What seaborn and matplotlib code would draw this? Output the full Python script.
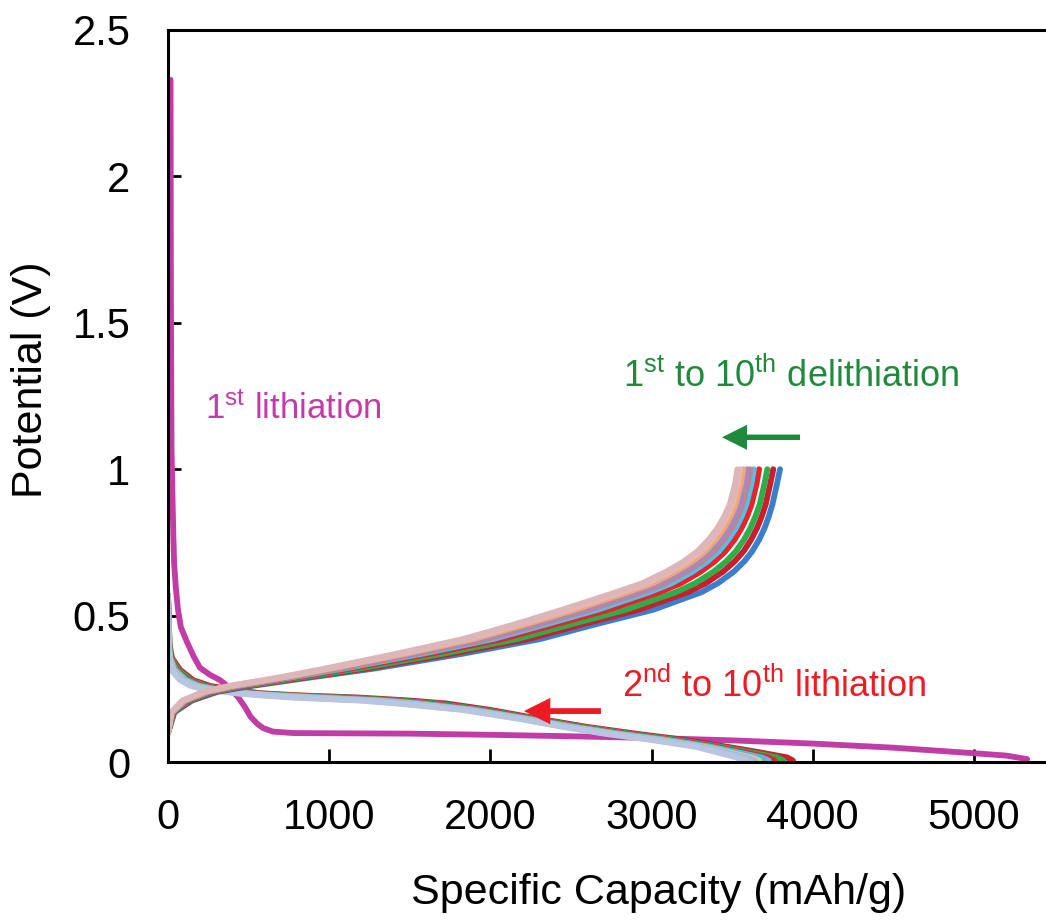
import matplotlib
matplotlib.use("Agg")
import matplotlib.pyplot as plt
import seaborn as sns

# ---- first lithiation (cycle 1) ----
first_lith_cap = [16, 18, 22, 28, 33, 38, 48, 62, 80, 121, 160, 198, 260, 322, 380, 434, 475,
                  513, 555, 590, 650, 775, 1100, 1500, 2000, 2500, 3000, 3500, 4000, 4500,
                  5000, 5200, 5330]
first_lith_v = [2.33, 1.6, 1.07, 0.9, 0.78, 0.68, 0.6, 0.52, 0.46, 0.406, 0.36, 0.322, 0.298,
                0.28, 0.255, 0.222, 0.19, 0.154, 0.13, 0.116, 0.104, 0.099, 0.098, 0.097,
                0.093, 0.088, 0.082, 0.074, 0.063, 0.049, 0.03, 0.022, 0.01]

# ---- delithiation, cycles 1-10: capacity at each potential step ----
delith_v = [0.10, 0.17, 0.21, 0.24, 0.26, 0.29, 0.32, 0.37, 0.42, 0.47, 0.52, 0.58, 0.61,
            0.65, 0.685, 0.72, 0.76, 0.80, 0.84, 0.88, 0.95, 1.00]
delith_cap = {
    1:  [0, 40, 150, 310, 520, 900, 1290, 1830, 2310, 2650, 3010, 3310, 3410, 3510, 3575, 3625, 3668, 3702, 3728, 3750, 3778, 3797],
    2:  [0, 37, 140, 296, 498, 868, 1240, 1764, 2233, 2570, 2920, 3225, 3335, 3443, 3515, 3571, 3618, 3655, 3684, 3708, 3736, 3755],
    3:  [0, 34, 132, 283, 478, 840, 1197, 1707, 2166, 2500, 2840, 3151, 3269, 3384, 3463, 3523, 3574, 3614, 3645, 3671, 3700, 3718],
    4:  [0, 30, 121, 266, 451, 802, 1138, 1629, 2075, 2405, 2733, 3050, 3180, 3304, 3391, 3458, 3515, 3559, 3593, 3620, 3651, 3667],
    5:  [0, 28, 113, 255, 435, 778, 1101, 1580, 2017, 2345, 2665, 2987, 3123, 3254, 3346, 3418, 3477, 3524, 3560, 3588, 3619, 3635],
    6:  [0, 26, 108, 247, 422, 760, 1073, 1543, 1974, 2300, 2615, 2939, 3081, 3216, 3313, 3387, 3449, 3498, 3535, 3565, 3596, 3612],
    7:  [0, 25, 104, 241, 412, 746, 1051, 1514, 1940, 2265, 2575, 2902, 3048, 3187, 3286, 3363, 3427, 3477, 3515, 3546, 3578, 3593],
    8:  [0, 23, 98, 233, 400, 728, 1023, 1477, 1897, 2220, 2524, 2854, 3006, 3149, 3253, 3333, 3399, 3451, 3491, 3522, 3554, 3569],
    9:  [0, 21, 94, 226, 390, 714, 1002, 1449, 1864, 2185, 2485, 2817, 2973, 3119, 3226, 3309, 3377, 3430, 3471, 3504, 3536, 3551],
    10: [0, 20, 90, 220, 380, 700, 980, 1420, 1830, 2150, 2445, 2780, 2940, 3090, 3200, 3285, 3355, 3410, 3452, 3485, 3518, 3532],
}
delith_colors = {1: "#3A7FCC", 2: "#C91E2C", 3: "#2DAE4B", 4: "#EE2028", 5: "#4DC2EC",
                 6: "#C7818E", 7: "#A28AC2", 8: "#F3A670", 9: "#E6B6B0", 10: "#DDB6B9"}

# ---- lithiation, cycles 2-10: capacity at each potential step ----
lith_v = [0.57, 0.40, 0.355, 0.315, 0.28, 0.26, 0.25, 0.235, 0.228, 0.22, 0.21, 0.20, 0.178,
          0.148, 0.12, 0.097, 0.076, 0.052, 0.033, 0.016, 0.005]
lith_cap = {
    2:  [0, 10, 25, 75, 155, 260, 370, 570, 800, 1190, 1500, 1725, 2000, 2300, 2600, 2900, 3200, 3470, 3670, 3840, 3877],
    3:  [0, 9, 21, 64, 139, 236, 338, 540, 754, 1107, 1438, 1663, 1965, 2274, 2570, 2861, 3158, 3431, 3617, 3777, 3818],
    4:  [0, 7, 18, 53, 124, 214, 310, 512, 712, 1032, 1382, 1608, 1934, 2251, 2543, 2826, 3120, 3395, 3570, 3720, 3764],
    5:  [0, 6, 15, 46, 114, 200, 291, 494, 684, 982, 1345, 1571, 1912, 2235, 2525, 2802, 3095, 3371, 3538, 3681, 3728],
    6:  [0, 6, 14, 41, 106, 188, 275, 479, 661, 941, 1314, 1540, 1895, 2222, 2510, 2783, 3074, 3352, 3512, 3650, 3699],
    7:  [0, 5, 12, 35, 98, 176, 259, 464, 638, 900, 1283, 1509, 1877, 2209, 2495, 2763, 3053, 3332, 3486, 3618, 3669],
    8:  [0, 4, 10, 29, 90, 164, 244, 448, 614, 858, 1252, 1479, 1860, 2196, 2480, 2744, 3032, 3312, 3460, 3586, 3639],
    9:  [0, 4, 8, 24, 82, 152, 228, 433, 591, 817, 1221, 1448, 1842, 2183, 2465, 2725, 3011, 3293, 3433, 3555, 3610],
    10: [0, 3, 6, 18, 74, 140, 212, 418, 568, 775, 1190, 1417, 1825, 2170, 2450, 2705, 2990, 3273, 3407, 3523, 3580],
}
lith_colors = {2: "#C91E2C", 3: "#2DAE4B", 4: "#EE2028", 5: "#4DC2EC", 6: "#6FA8DC",
               7: "#C6D68F", 8: "#A3BCDD", 9: "#AFC2E0", 10: "#B8C6E2"}

# axis and annotation text
x_ticks = [0, 1000, 2000, 3000, 4000, 5000]
y_ticks = [0, 0.5, 1, 1.5, 2, 2.5]
y_tick_labels = ["0", "0.5", "1", "1.5", "2", "2.5"]

MAGENTA = "#C13CA6"
GREEN = "#1F8A3C"
RED = "#ED1C24"

sns.set_style("ticks")
plt.rcParams["font.family"] = ["Liberation Sans", "DejaVu Sans"]
plt.rcParams["mathtext.fontset"] = "custom"
plt.rcParams["mathtext.rm"] = "Liberation Sans"
plt.rcParams["mathtext.it"] = "Liberation Sans"
plt.rcParams["text.color"] = "black"
plt.rcParams["axes.labelcolor"] = "black"

fig = plt.figure(figsize=(10.46, 9.23), dpi=100)
ax = fig.add_axes([0.1606, 0.1744, 0.8394, 0.7931])

LW = 4.2

sns.lineplot(x=first_lith_cap, y=first_lith_v, color=MAGENTA, lw=LW, sort=False,
             estimator=None, ax=ax, solid_capstyle="round")

for cyc, caps in lith_cap.items():
    sns.lineplot(x=caps, y=lith_v, color=lith_colors[cyc], lw=LW, sort=False,
                 estimator=None, ax=ax, solid_capstyle="round")

for cyc, caps in delith_cap.items():
    sns.lineplot(x=caps, y=delith_v, color=delith_colors[cyc], lw=LW, sort=False,
                 estimator=None, ax=ax, solid_capstyle="round")

ax.set_xlim(0, 5447)
ax.set_ylim(0, 2.5)
ax.set_xticks(x_ticks)
ax.set_xticklabels([str(t) for t in x_ticks])
ax.set_yticks(y_ticks)
ax.set_yticklabels(y_tick_labels)

for side in ("left", "bottom", "top"):
    ax.spines[side].set_linewidth(2.2)
    ax.spines[side].set_color("black")
ax.spines["right"].set_visible(False)

ax.tick_params(axis="both", direction="in", length=9.5, width=2, labelsize=30,
               colors="black", top=False, right=False)
ax.tick_params(axis="x", pad=26)
ax.tick_params(axis="y", pad=27)

ax.set_xlabel("Specific Capacity (mAh/g)", fontsize=31, va="top")
ax.xaxis.set_label_coords(0.559, -0.152)
ax.set_ylabel("Potential (V)", fontsize=31)
ax.yaxis.set_label_coords(-0.133, 0.522)

# annotations
ax.text(230, 1.171, r"1$^{\mathrm{st}}$ lithiation", color=MAGENTA, fontsize=25,
        ha="left", va="baseline")
ax.text(2823, 1.28, r"1$^{\mathrm{st}}$ to 10$^{\mathrm{th}}$ delithiation", color=GREEN,
        fontsize=26, ha="left", va="baseline")
ax.text(2816, 0.222, r"2$^{\mathrm{nd}}$ to 10$^{\mathrm{th}}$ lithiation", color=RED,
        fontsize=26, ha="left", va="baseline")

arrow_style = "simple,head_length=1.0,head_width=1.0,tail_width=0.22"
ax.annotate("", xy=(3437, 1.109), xytext=(3921, 1.109),
            arrowprops=dict(arrowstyle=arrow_style, color=GREEN, mutation_scale=18,
                            shrinkA=0, shrinkB=0, lw=0))
ax.annotate("", xy=(2208, 0.174), xytext=(2686, 0.174),
            arrowprops=dict(arrowstyle=arrow_style, color=RED, mutation_scale=19,
                            shrinkA=0, shrinkB=0, lw=0))

fig.savefig("out.png", dpi=100)
